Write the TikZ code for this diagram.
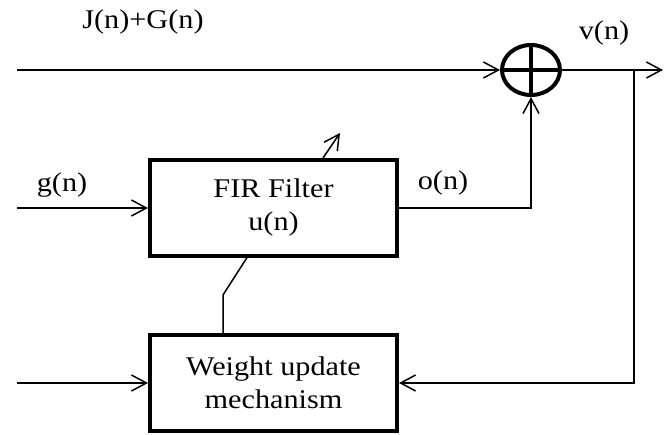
\documentclass[tikz,border=0pt]{standalone}
\usepackage{fontspec}
\setmainfont{Liberation Serif}[FakeStretch=1.12]
\usetikzlibrary{arrows.meta,shapes.geometric}

\begin{document}
\begin{tikzpicture}[x=1pt,y=1pt,font=\fontsize{27}{33}\selectfont]

        % Stili per blocchi e collegamenti
        \tikzstyle{blocco}=[draw,line width=4pt,minimum width=247pt,minimum height=96pt,inner sep=0pt,align=center]
        \tikzstyle{linea}=[line width=1.5pt]
        \tikzstyle{freccia}=[linea,-{Straight Barb[length=15pt,width=16pt]}]

        % Area del disegno
        \useasboundingbox (0,0) rectangle (669,434);

        % Sommatore
        \node[draw,ellipse,line width=4pt,minimum width=58pt,minimum height=50pt,inner sep=0pt] (somma) at (531,364) {};
        \draw[line width=4pt] (somma.north) -- (somma.south);
        \draw[line width=4pt] (somma.west) -- (somma.east);

        % Blocchi
        \node[blocco] (fir) at (273.5,226) {FIR Filter\\u(n)};
        \node[blocco] (peso) at (273.5,51) {Weight update\\mechanism};

        % Punti liberi dei collegamenti
        \coordinate (inJG) at (17,364);
        \coordinate (uscita) at (663,364);
        \coordinate (presa) at (634,364);
        \coordinate (ing) at (17,226);
        \coordinate (inpeso) at (17,51);
        \coordinate (firbase) at (248,178);
        \coordinate (gomito) at (223,139);
        \coordinate (adattaA) at (323,276);
        \coordinate (adattaB) at (340,301);

        % Collegamenti
        \draw[freccia] (inJG) -- (somma.west);
        \draw[freccia] (somma.east) -- (uscita);
        \draw[freccia] (ing) -- (fir.west);
        \draw[freccia] (fir.east) -| (somma.south);
        \draw[freccia] (inpeso) -- (peso.west);
        \draw[freccia] (presa) |- (peso.east);
        \draw[freccia] (adattaA) -- (adattaB);
        \draw[linea] (firbase) -- (gomito) -- (gomito |- peso.north);

        % Etichette dei segnali
        \node (jg) at (143,412) {J(n)+G(n)};
        \node (v) at (604,401) {v(n)};
        \node (g) at (62,249) {g(n)};
        \node (o) at (443,251) {o(n)};

    \end{tikzpicture}
\end{document}
